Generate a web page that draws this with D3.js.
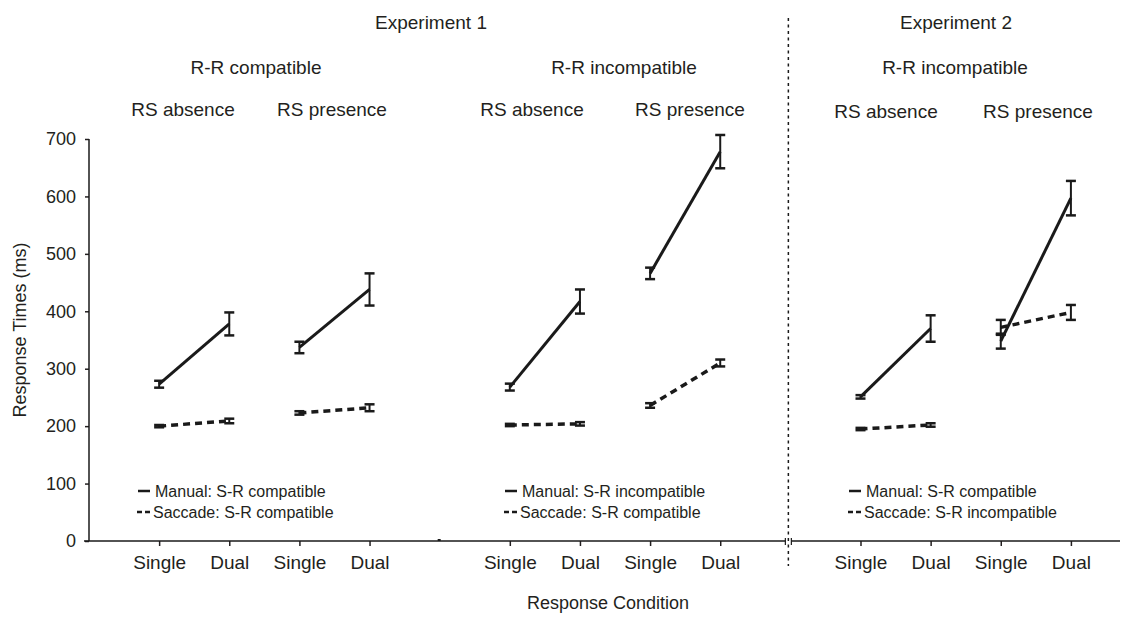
<!DOCTYPE html>
<html lang="en">
<head>
  <meta charset="UTF-8" />
  <title>Response times</title>
  <script src="https://d3js.org/d3.v7.min.js"></script>
  <style>
    body { margin: 0; background: #fff; }
    text { font-family: "Liberation Sans", Arial, sans-serif; fill: #231f20; }
    .axis .domain { display: none; }
    .axis line { stroke: #231f20; stroke-width: 1.5px; }
  </style>
</head>
<body>
  <svg id="chart" width="1132" height="617"></svg>
  <script>
    // ---- data ----
    const conditions = ["Single", "Dual", "Single", "Dual", "Single", "Dual", "Single", "Dual", "Single", "Dual", "Single", "Dual"];
    const manualMean = [273, 378, 337, 438, 268, 417, 466, 678, 251, 370, 348, 597];
    const manualErr = [6, 20, 10, 28, 6, 21, 10, 29, 3, 23, 13, 30];
    const saccadeMean = [200, 209, 223, 232, 202, 204, 236, 310, 195, 202, 372, 398];
    const saccadeErr = [2, 4, 3, 6, 2, 3, 4, 6, 2, 3, 13, 13];
    const yTicks = [0, 100, 200, 300, 400, 500, 600, 700];
    const experiments = ["Experiment 1", "Experiment 2"];
    const rrLabels = ["R-R compatible", "R-R incompatible", "R-R incompatible"];
    const rsLabels = ["RS absence", "RS presence", "RS absence", "RS presence", "RS absence", "RS presence"];
    const legendManual = ["Manual: S-R compatible", "Manual: S-R incompatible", "Manual: S-R compatible"];
    const legendSaccade = ["Saccade: S-R compatible", "Saccade: S-R compatible", "Saccade: S-R incompatible"];

    const svg = d3.select("svg#chart");
    const ink = "#1a1a1a";

    // slot index: 4 conditions per block, one empty slot between blocks
    const slot = (i) => i + 1 + Math.floor(i / 4);

    const x = d3.scaleLinear().domain([0, 14.7]).range([89, 1120]);
    const y = d3.scaleLinear().domain([0, 700]).range([541, 139]);

    // y axis
    svg.append("g")
      .attr("class", "axis")
      .attr("transform", `translate(${x(0)},0)`)
      .call(d3.axisLeft(y).tickValues(yTicks).tickSize(4).tickPadding(9))
      .selectAll("text")
      .attr("font-size", 18);

    svg.append("line")
      .attr("x1", x(0)).attr("x2", x(0))
      .attr("y1", y(700)).attr("y2", y(0))
      .attr("stroke", ink).attr("stroke-width", 1.5);

    // x axis ticks and labels
    svg.append("g")
      .attr("class", "axis")
      .attr("transform", `translate(0,${y(0)})`)
      .call(d3.axisBottom(x)
        .tickValues(conditions.map((d, i) => slot(i)))
        .tickFormat((d, i) => conditions[i])
        .tickSize(5).tickPadding(10))
      .selectAll("text")
      .attr("font-size", 19);

    // x axis line in two parts (experiment 1 / experiment 2)
    const splitX = x(10) - 4;
    svg.append("line")
      .attr("x1", x(0) - 5).attr("x2", splitX - 1)
      .attr("y1", y(0)).attr("y2", y(0))
      .attr("stroke", ink).attr("stroke-width", 1.5);
    svg.append("line")
      .attr("x1", splitX + 5).attr("x2", x(14.7))
      .attr("y1", y(0)).attr("y2", y(0))
      .attr("stroke", ink).attr("stroke-width", 1.5);
    [splitX - 1, splitX + 5].forEach((px) => {
      svg.append("line")
        .attr("x1", px).attr("x2", px)
        .attr("y1", y(0) - 3).attr("y2", y(0) + 4)
        .attr("stroke", ink).attr("stroke-width", 1.2);
    });
    // small mark between the two experiment 1 blocks
    svg.append("rect")
      .attr("x", x(5) - 2).attr("y", y(0) - 2)
      .attr("width", 3).attr("height", 2)
      .attr("fill", ink);

    // dotted separator
    svg.append("line")
      .attr("x1", splitX + 2).attr("x2", splitX + 2)
      .attr("y1", 18).attr("y2", 566)
      .attr("stroke", ink).attr("stroke-width", 1.5)
      .attr("stroke-dasharray", "3,3.5");

    // lines (each Single-Dual pair)
    const pairs = d3.range(6);
    const lineOf = (means) => (p) => d3.line()([
      [x(slot(p * 2)), y(means[p * 2])],
      [x(slot(p * 2 + 1)), y(means[p * 2 + 1])]
    ]);

    svg.append("g").selectAll("path")
      .data(pairs)
      .join("path")
      .attr("d", lineOf(saccadeMean))
      .attr("fill", "none")
      .attr("stroke", ink)
      .attr("stroke-width", 3.5)
      .attr("stroke-dasharray", "7,5");

    svg.append("g").selectAll("path")
      .data(pairs)
      .join("path")
      .attr("d", lineOf(manualMean))
      .attr("fill", "none")
      .attr("stroke", ink)
      .attr("stroke-width", 3);

    // error bars
    const drawErrors = (means, errs) => {
      const g = svg.append("g").selectAll("g")
        .data(means.map((m, i) => ({ m, e: errs[i], i })))
        .join("g");
      g.append("line")
        .attr("x1", (d) => x(slot(d.i))).attr("x2", (d) => x(slot(d.i)))
        .attr("y1", (d) => y(d.m - d.e)).attr("y2", (d) => y(d.m + d.e))
        .attr("stroke", ink).attr("stroke-width", 2);
      g.selectAll("line.cap")
        .data((d) => [d.m - d.e, d.m + d.e].map((v) => ({ v, i: d.i })))
        .join("line")
        .attr("class", "cap")
        .attr("x1", (d) => x(slot(d.i)) - 5).attr("x2", (d) => x(slot(d.i)) + 5)
        .attr("y1", (d) => y(d.v)).attr("y2", (d) => y(d.v))
        .attr("stroke", ink).attr("stroke-width", 2.5);
    };
    drawErrors(saccadeMean, saccadeErr);
    drawErrors(manualMean, manualErr);

    // header texts
    const header = svg.append("g").attr("text-anchor", "middle").attr("font-size", 19);
    const expX = [431, 956];
    header.selectAll("text.exp")
      .data(experiments)
      .join("text")
      .attr("class", "exp")
      .attr("x", (d, i) => expX[i])
      .attr("y", 29)
      .text((d) => d);
    const rrX = [256, 624, 955];
    header.selectAll("text.rr")
      .data(rrLabels)
      .join("text")
      .attr("class", "rr")
      .attr("x", (d, i) => rrX[i])
      .attr("y", 74)
      .text((d) => d);
    const rsX = [183, 332, 532, 690, 886, 1038];
    header.selectAll("text.rs")
      .data(rsLabels)
      .join("text")
      .attr("class", "rs")
      .attr("x", (d, i) => rsX[i])
      .attr("y", (d, i) => (i >= 4 ? 118 : 116))
      .text((d) => d);

    // legends
    const legendX = [138, 505, 849];
    const legend = svg.append("g");
    legendX.forEach((lx, i) => {
      legend.append("line")
        .attr("x1", lx).attr("x2", lx + 12)
        .attr("y1", 491).attr("y2", 491)
        .attr("stroke", ink).attr("stroke-width", 2.5);
      legend.append("line")
        .attr("x1", lx - 1).attr("x2", lx + 12)
        .attr("y1", 512).attr("y2", 512)
        .attr("stroke", ink).attr("stroke-width", 2.5)
        .attr("stroke-dasharray", "5,3");
      legend.append("text")
        .attr("x", lx + 17).attr("y", 497)
        .attr("font-size", 16)
        .text(legendManual[i]);
      legend.append("text")
        .attr("x", lx + 15).attr("y", 518)
        .attr("font-size", 16)
        .text(legendSaccade[i]);
    });

    // axis titles
    svg.append("text")
      .attr("text-anchor", "middle")
      .attr("x", 608).attr("y", 609)
      .attr("font-size", 18)
      .text("Response Condition");

    svg.append("text")
      .attr("text-anchor", "middle")
      .attr("transform", "translate(26,330) rotate(-90)")
      .attr("font-size", 18)
      .text("Response Times (ms)");
  </script>
</body>
</html>
